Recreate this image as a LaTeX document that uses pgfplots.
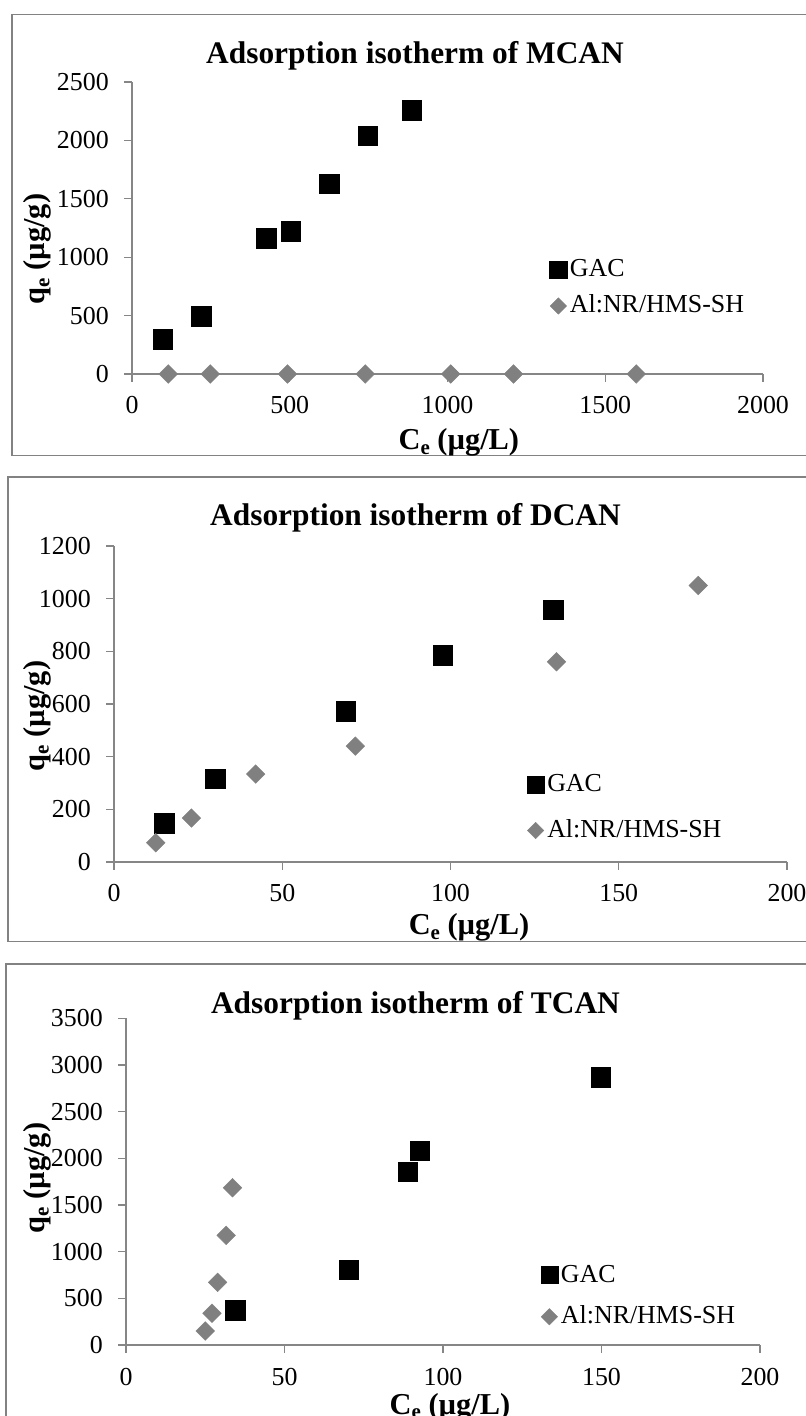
\documentclass[border=0pt]{standalone}
\usepackage{fontspec}
\setmainfont{Liberation Serif}
\usepackage{pgfplots}
\pgfplotsset{compat=1.18}

\definecolor{axisgray}{RGB}{134,134,134}
\definecolor{framegray}{RGB}{130,130,130}
\definecolor{markgray}{RGB}{128,128,128}

% lowered subscript set in the text font
\newcommand{\sub}[1]{\raisebox{-4.5bp}{\fontsize{21}{22}\selectfont #1}}

\pgfplotsset{
  isotherm/.style={
    scale only axis,
    axis lines=left,
    axis line style={-, draw=axisgray, line width=1.2bp},
    every tick/.style={draw=axisgray, line width=1.2bp},
    tick align=outside,
    major tick length=8bp,
    clip=false,
    /pgf/number format/assume math mode=true,
    /pgf/number format/1000 sep={},
    ticklabel style={font=\fontsize{26}{30}\selectfont, inner sep=0pt},
    yticklabel style={anchor=east, xshift=-15bp},
    xticklabel style={anchor=base, yshift=-32bp},
    title style={font=\fontsize{31.5}{36}\selectfont\bfseries, anchor=base, inner sep=0pt},
    xlabel style={font=\fontsize{30.5}{34}\selectfont\bfseries, anchor=base, inner sep=0pt},
    ylabel style={font=\fontsize{30.5}{34}\selectfont\bfseries, anchor=base, inner sep=0pt},
    xlabel={C\sub{e} (µg/L)},
    ylabel={q\sub{e} (µg/g)},
    legend style={draw=none, fill=none, anchor=west, inner sep=0pt,
      font=\fontsize{26}{30}\selectfont,
      nodes={inner sep=0pt, text height=18bp, text depth=4bp},
      column sep=3bp},
    legend cell align=left,
    legend image code/.code={%
      \draw[##1, every mark/.append style={scale=0.88}] plot coordinates {(0bp,0bp)};},
  },
  gac/.style={only marks, mark=square*, mark size=9.8bp, draw=black, fill=black},
  alnr/.style={only marks, mark=square*, mark size=6.6bp, color=markgray,
    mark options={rotate=45, fill=markgray, draw=markgray}},
}

% MCAN
\pgfplotstableread{
x y
97 300
220 495
425 1160
503 1225
625 1630
747 2040
886 2260
}\mcanGAC
\pgfplotstableread{
x y
115 0
248 0
493 0
739 0
1010 0
1209 0
1598 0
}\mcanAL

% DCAN
\pgfplotstableread{
x y
15.0 148
30.0 316
68.9 573
97.7 785
130.6 958
}\dcanGAC
\pgfplotstableread{
x y
12.4 73
23.0 167
42.1 334
71.7 440
131.5 760
173.6 1050
}\dcanAL

% TCAN
\pgfplotstableread{
x y
34.4 375
70.2 805
88.9 1855
92.6 2080
149.7 2870
}\tcanGAC
\pgfplotstableread{
x y
25.0 150
27.1 340
28.9 672
31.6 1175
33.6 1685
}\tcanAL

\begin{document}
\begin{tikzpicture}
\useasboundingbox (0bp,0bp) rectangle (806bp,1416bp);
\clip (0bp,0bp) rectangle (806bp,1416bp);

% chart frames
\draw[framegray, line width=1.2bp] (12bp,1401.7bp) rectangle (830bp,960.5bp);
\draw[framegray, line width=1.2bp] (8bp,939bp) rectangle (830bp,474.3bp);
\draw[framegray, line width=1.2bp] (6bp,452bp) rectangle (830bp,-30bp);

% MCAN
\begin{axis}[isotherm,
  at={(132bp,1042bp)}, anchor=south west, width=631bp, height=292bp,
  xmin=0, xmax=2000, ymin=0, ymax=2500,
  xtick={0,500,...,2000}, ytick={0,500,...,2500},
  title={Adsorption isotherm of MCAN},
  title style={at={(axis description cs:0.4485,1.043)}},
  xlabel style={at={(axis description cs:0.518,-0.260)}},
  ylabel style={at={(axis description cs:-0.138,0.428)}},
  legend style={at={(axis description cs:0.6616,0.2945)}, row sep=14bp},
]
\addplot[gac] table {\mcanGAC};
\addplot[alnr] table {\mcanAL};
\legend{GAC, Al:NR/HMS-SH}
\end{axis}

% DCAN
\begin{axis}[isotherm,
  at={(114bp,554bp)}, anchor=south west, width=673bp, height=316bp,
  xmin=0, xmax=200, ymin=0, ymax=1200,
  xtick={0,50,...,200}, ytick={0,200,...,1200},
  title={Adsorption isotherm of DCAN},
  title style={at={(axis description cs:0.448,1.046)}},
  xlabel style={at={(axis description cs:0.5275,-0.231)}},
  ylabel style={at={(axis description cs:-0.104,0.462)}},
  legend style={at={(axis description cs:0.6134,0.1722)}, row sep=24bp},
]
\addplot[gac] table {\dcanGAC};
\addplot[alnr] table {\dcanAL};
\legend{GAC, Al:NR/HMS-SH}
\end{axis}

% TCAN
\begin{axis}[isotherm,
  at={(126bp,71bp)}, anchor=south west, width=634bp, height=326.7bp,
  xmin=0, xmax=200, ymin=0, ymax=3500,
  xtick={0,50,...,200}, ytick={0,500,...,3500},
  title={Adsorption isotherm of TCAN},
  title style={at={(axis description cs:0.4566,0.997)}},
  xlabel style={at={(axis description cs:0.511,-0.212)}},
  ylabel style={at={(axis description cs:-0.129,0.511)}},
  legend style={at={(axis description cs:0.6538,0.1503)}, row sep=19.7bp},
]
\addplot[gac] table {\tcanGAC};
\addplot[alnr] table {\tcanAL};
\legend{GAC, Al:NR/HMS-SH}
\end{axis}
\end{tikzpicture}
\end{document}
